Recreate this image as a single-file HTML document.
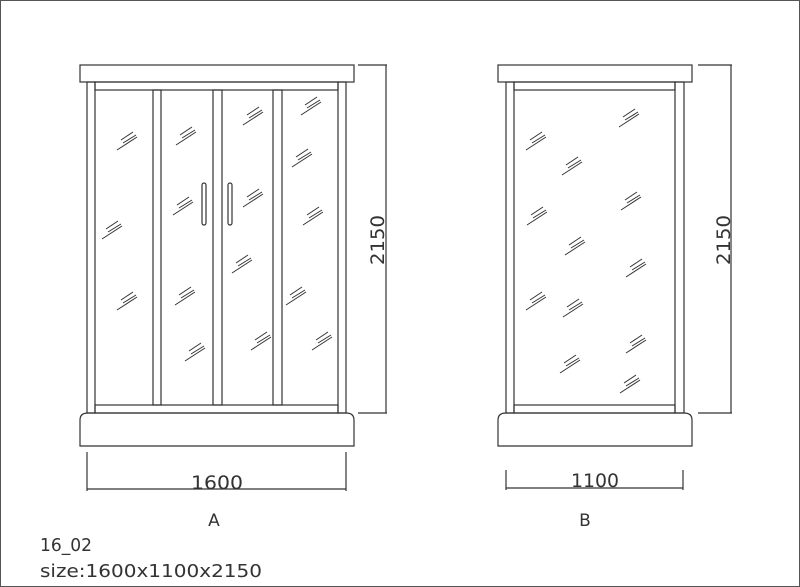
<!DOCTYPE html>
<html><head><meta charset="utf-8"><style>
html,body{margin:0;padding:0;background:#fff;}
svg{display:block;}
text{font-family:"DejaVu Sans","Liberation Sans",sans-serif;fill:#333;}
</style></head><body>
<svg width="800" height="587" viewBox="0 0 800 587" xmlns="http://www.w3.org/2000/svg">
<defs>
<g id="m" stroke="#333" stroke-width="1" fill="none">
<line x1="4" y1="8" x2="16" y2="0"/><line x1="6" y1="11" x2="19" y2="3"/><line x1="0" y1="18" x2="20" y2="5"/>
</g>
</defs>
<rect x="0.5" y="0.5" width="799" height="586" fill="none" stroke="#555"/>
<g stroke="#333" stroke-width="1.2" fill="none">
<rect x="80" y="65" width="274" height="17"/>
<rect x="87" y="82" width="8" height="331"/>
<rect x="338" y="82" width="8" height="331"/>
<rect x="95" y="82" width="243" height="8"/>
<rect x="95" y="405" width="243" height="8"/>
<rect x="153" y="90" width="8" height="315"/>
<rect x="213" y="90" width="9" height="315"/>
<rect x="273" y="90" width="9" height="315"/>
<path d="M80,446 V420 Q80,413 88,413 H346 Q354,413 354,420 V446 Z"/>
<rect x="202" y="183" width="4" height="42" rx="2"/>
<rect x="228" y="183" width="4" height="42" rx="2"/>
<line x1="87" y1="452" x2="87" y2="491"/>
<line x1="346" y1="452" x2="346" y2="491"/>
<line x1="87" y1="489" x2="346" y2="489"/>
<line x1="358" y1="65" x2="387" y2="65"/>
<line x1="358" y1="413" x2="387" y2="413"/>
<line x1="386" y1="65" x2="386" y2="413"/>
<rect x="498" y="65" width="194" height="17"/>
<rect x="506" y="82" width="8" height="331"/>
<rect x="675" y="82" width="9" height="331"/>
<rect x="514" y="82" width="161" height="8"/>
<rect x="514" y="405" width="161" height="8"/>
<path d="M498,446 V420 Q498,413 506,413 H684 Q692,413 692,420 V446 Z"/>
<line x1="506" y1="470" x2="506" y2="490"/>
<line x1="683" y1="470" x2="683" y2="490"/>
<line x1="506" y1="488" x2="683" y2="488"/>
<line x1="698" y1="65" x2="732" y2="65"/>
<line x1="698" y1="413" x2="732" y2="413"/>
<line x1="731" y1="65" x2="731" y2="413"/>
</g>
<g>
<use href="#m" x="117" y="132"/><use href="#m" x="176" y="127"/><use href="#m" x="243" y="107"/><use href="#m" x="301" y="97"/>
<use href="#m" x="292" y="149"/><use href="#m" x="102" y="221"/><use href="#m" x="173" y="197"/><use href="#m" x="243" y="189"/>
<use href="#m" x="303" y="207"/><use href="#m" x="232" y="255"/><use href="#m" x="117" y="292"/><use href="#m" x="175" y="287"/>
<use href="#m" x="286" y="287"/><use href="#m" x="251" y="332"/><use href="#m" x="312" y="332"/><use href="#m" x="185" y="343"/>
<use href="#m" x="526" y="132"/><use href="#m" x="619" y="109"/><use href="#m" x="562" y="157"/><use href="#m" x="527" y="207"/>
<use href="#m" x="621" y="192"/><use href="#m" x="565" y="237"/><use href="#m" x="626" y="259"/><use href="#m" x="526" y="292"/>
<use href="#m" x="563" y="299"/><use href="#m" x="626" y="335"/><use href="#m" x="560" y="355"/><use href="#m" x="620" y="375"/>
</g>
<text x="217" y="489" font-size="19" text-anchor="middle" textLength="52" lengthAdjust="spacingAndGlyphs">1600</text>
<text x="595" y="487" font-size="19" text-anchor="middle" textLength="48" lengthAdjust="spacingAndGlyphs">1100</text>
<text transform="translate(384,240) rotate(-90)" font-size="19" text-anchor="middle" textLength="50" lengthAdjust="spacingAndGlyphs">2150</text>
<text transform="translate(730,240) rotate(-90)" font-size="19" text-anchor="middle" textLength="50" lengthAdjust="spacingAndGlyphs">2150</text>
<text x="214" y="526" font-size="17" text-anchor="middle">A</text>
<text x="585" y="526" font-size="17" text-anchor="middle">B</text>
<text x="40" y="551" font-size="18" textLength="52" lengthAdjust="spacingAndGlyphs">16_02</text>
<text x="40" y="577" font-size="18" textLength="222" lengthAdjust="spacingAndGlyphs">size:1600x1100x2150</text>
</svg>
</body></html>
